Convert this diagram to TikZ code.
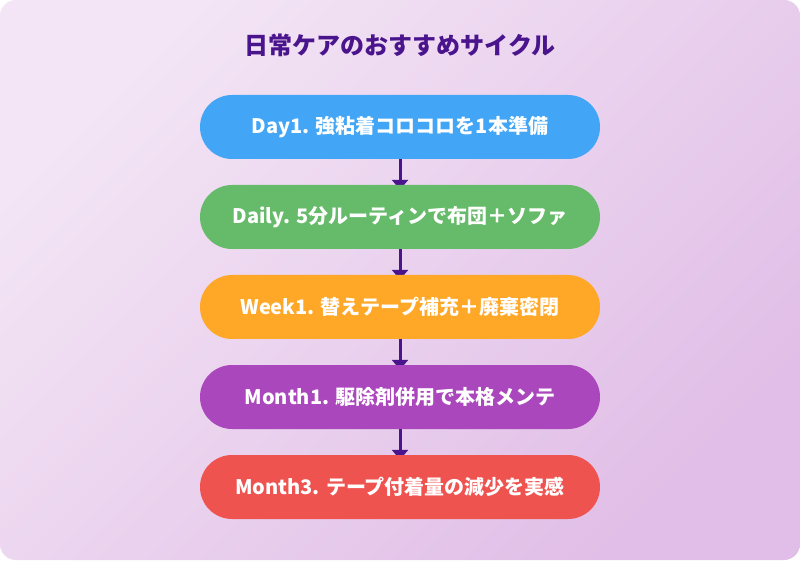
\documentclass[tikz,border=0pt]{standalone}
\usepackage{fontspec}
\setmainfont{Noto Sans CJK JP}
\usepackage{tikz}
\usetikzlibrary{arrows.meta}

\definecolor{titlepurple}{HTML}{4A148C}
\definecolor{bgtopleft}{HTML}{F3E5F5}
\definecolor{bgbottomright}{HTML}{E1BEE7}
\definecolor{stepblue}{HTML}{42A5F5}
\definecolor{stepgreen}{HTML}{66BB6A}
\definecolor{steporange}{HTML}{FFA726}
\definecolor{steppurple}{HTML}{AB47BC}
\definecolor{stepred}{HTML}{EF5350}

\pgfdeclarelayer{backdrop}
\pgfdeclarelayer{links}
\pgfsetlayers{backdrop,links,main}

\tikzset{
  stage/.style={rounded corners=32pt, minimum width=400pt, minimum height=64pt,
    text=white, font=\bfseries\fontsize{20}{24}\selectfont, inner sep=0pt},
  flow/.style={titlepurple, line width=3pt, shorten >=-5pt, -{Triangle[length=10pt,width=16pt]}}
}

\begin{document}
\begin{tikzpicture}[x=1pt, y=1pt]
          % Background
          \begin{pgfonlayer}{backdrop}
          \shade[rounded corners=16pt, top color=bgtopleft, bottom color=bgbottomright, shading angle=45]
            (0,0) rectangle (800,560);
          \end{pgfonlayer}
          \useasboundingbox (0,0) rectangle (800,560);

          % Title
          \node[text=titlepurple, font=\bfseries\fontsize{24}{28}\selectfont] (title) at (400,515) {日常ケアのおすすめサイクル};

          % Steps
          \node[stage, fill=stepblue] (day1) at (400,433) {Day1. 強粘着コロコロを1本準備};
          \node[stage, fill=stepgreen] (daily) at (400,343) {Daily. 5分ルーティンで布団＋ソファ};
          \node[stage, fill=steporange] (week1) at (400,253) {Week1. 替えテープ補充＋廃棄密閉};
          \node[stage, fill=steppurple] (month1) at (400,163) {Month1. 駆除剤併用で本格メンテ};
          \node[stage, fill=stepred] (month3) at (400,73) {Month3. テープ付着量の減少を実感};

          % Arrows (behind the steps)
          \begin{pgfonlayer}{links}
          \draw[flow] (day1) -- (daily);
          \draw[flow] (daily) -- (week1);
          \draw[flow] (week1) -- (month1);
          \draw[flow] (month1) -- (month3);
          \end{pgfonlayer}

        \end{tikzpicture}
\end{document}
